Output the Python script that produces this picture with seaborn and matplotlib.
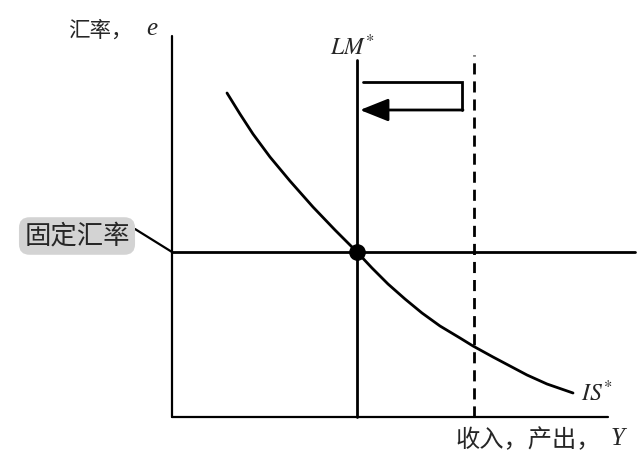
import numpy as np
import pandas as pd
import matplotlib
matplotlib.use('Agg')
import matplotlib.pyplot as plt
import seaborn as sns

sns.set_style('white')
plt.rcParams['font.family'] = ['Noto Sans CJK SC', 'DejaVu Sans']
plt.rcParams['mathtext.fontset'] = 'stix'

# IS* curve (income, exchange rate)
is_income = [55, 68, 81, 98, 118, 141, 163, 185, 200, 216, 233, 250, 268, 288, 301, 321, 338, 355, 375, 401]
is_rate = [324, 303, 283, 260, 236, 210, 187, 165, 149, 133, 118, 104, 91, 79, 71, 60, 51, 42, 33, 24]

fixed_rate = 165
lm_income = 185
lm_new_income = 302
axis_top = 381
axis_right = 436
fixed_right = 463
lm_top = 357
dashed_top = 362
arrow_x = [191, 290, 290]
arrow_y = [335, 335, 307]
arrow_tip = 188

df = pd.DataFrame({'income': is_income, 'rate': is_rate})

fig = plt.figure(figsize=(6.42, 4.75), dpi=100)
ax = fig.add_axes([0, 0, 1, 1])
ax.set_xlim(-172, 470)
ax.set_ylim(-58, 417)
ax.axis('off')

lw = 2.0
# axes
ax.plot([0, 0], [0, axis_top], color='black', lw=1.6)
ax.plot([0, axis_right], [0, 0], color='black', lw=1.6)

# fixed exchange rate
ax.plot([0, fixed_right], [fixed_rate, fixed_rate], color='black', lw=lw)
# LM*
ax.plot([lm_income, lm_income], [0, lm_top], color='black', lw=lw)
# dashed LM*
ax.plot([lm_new_income, lm_new_income], [0, dashed_top], color='black', lw=lw,
        ls=(0, (4, 2.5)))

# IS*
sns.lineplot(data=df, x='income', y='rate', sort=False, color='black', lw=lw, ax=ax)

# equilibrium point
ax.plot([lm_income], [fixed_rate], 'o', color='black', ms=11)

# arrow
ax.plot(arrow_x, arrow_y, color='black', lw=lw, solid_joinstyle='miter')
ax.annotate('', xy=(arrow_tip, arrow_y[-1]), xytext=(arrow_x[-1] + 1, arrow_y[-1]),
            arrowprops=dict(arrowstyle='-|>,head_length=1.25,head_width=0.5',
                            color='black', lw=lw, mutation_scale=14,
                            shrinkA=0, shrinkB=0))

# labels
it = dict(family='Liberation Serif', style='italic')
ax.text(-72, 386, '汇率，', fontsize=15.5, ha='center', va='center')
ax.text(-20, 388, 'e', fontsize=18, ha='center', va='center', **it)
ax.text(lm_income - 5, 370, '$LM^{*}$', fontsize=17, ha='center', va='center')
ax.text(425, 24, '$IS^{*}$', fontsize=17, ha='center', va='center')
ax.text(356, -23, '收入，产出，', fontsize=17.5, ha='center', va='center')
ax.text(446, -22, 'Y', fontsize=18, ha='center', va='center', **it)
ax.text(-95, 181, '固定汇率', fontsize=19, ha='center', va='center',
        bbox=dict(boxstyle='round,pad=0.2,rounding_size=0.4', fc='#d3d3d3', ec='none'))
ax.plot([-37, 0], [188, fixed_rate], color='black', lw=1.6)

fig.savefig('out.png', dpi=100)
